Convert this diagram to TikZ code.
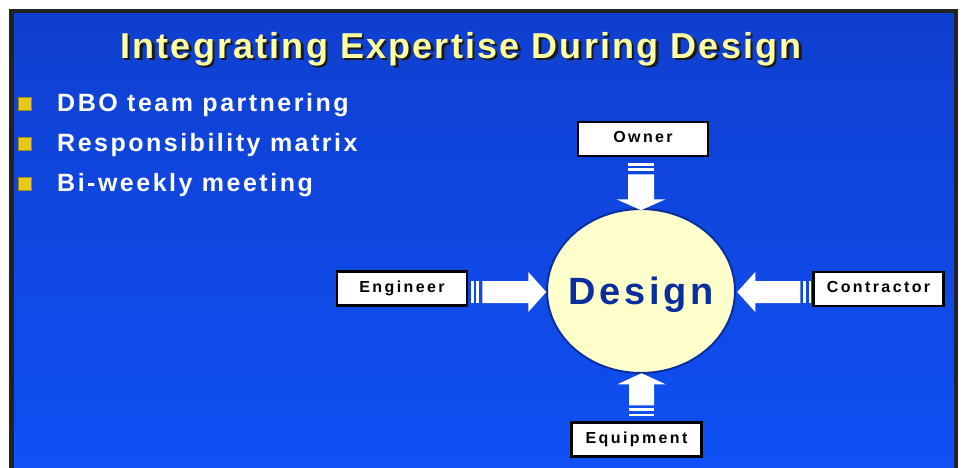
\documentclass[tikz,border=0pt]{standalone}
\usepackage{fontspec}
\setmainfont{Liberation Sans}
\newfontfamily\titlefont[LetterSpace=6]{Liberation Sans}
\newfontfamily\bulletfont[LetterSpace=10]{Liberation Sans}
\newfontfamily\designfont[LetterSpace=10]{Liberation Sans}
\newfontfamily\boxfont[LetterSpace=15]{Liberation Sans}
\usetikzlibrary{shapes.geometric,calc}
\definecolor{frameDark}{HTML}{222222}
\definecolor{bgTop}{HTML}{0F3FCF}
\definecolor{bgBot}{HTML}{1050F5}
\definecolor{titleYellow}{HTML}{FFFFA0}
\definecolor{titleShadow}{HTML}{1A1A1A}
\definecolor{bulletGold}{HTML}{E8C81E}
\definecolor{designFill}{HTML}{FFFFCC}
\definecolor{designBlue}{HTML}{0A2E9E}
\newcommand{\shadowtext}[1]{\rlap{\hspace{2.5pt}\raisebox{-2.5pt}{\color{titleShadow}#1}}#1}
\tikzset{
  labelbox/.style={draw=black, line width=2.5pt, fill=white, minimum width=130pt, minimum height=34pt, inner sep=0pt,
    text height=11.5pt, text depth=4pt,
    font=\boxfont\bfseries\fontsize{16}{18}\selectfont, text=black},
  bulletsq/.style={fill=bulletGold, draw=bulletGold!70!black, line width=0.4pt, minimum size=13pt, inner sep=0pt},
  bullettext/.style={anchor=base west, inner sep=0pt, text=white, font=\bulletfont\bfseries\fontsize{25}{28}\selectfont},
  designnode/.style={ellipse, draw=designBlue, line width=2pt, fill=designFill, minimum width=188pt, minimum height=164pt,
    inner sep=0pt},
  designtext/.style={anchor=base, inner sep=0pt, text=designBlue, font=\designfont\bfseries\fontsize{38}{40}\selectfont},
  arrowfill/.style={fill=white, draw=none}
}
\begin{document}
\begin{tikzpicture}[x=1pt,y=-1pt]
\useasboundingbox (0,0) rectangle (963,468);
% frame and background
\fill[frameDark] (9,9) rectangle (958,470);
\shade[top color=bgTop, bottom color=bgBot] (14,14) rectangle (954,470);
% title with drop shadow
\node[anchor=base, inner sep=0pt, text=titleYellow, font=\titlefont\bfseries\fontsize{36}{40}\selectfont] (title) at (461,58.5) {\shadowtext{Integrating Expertise During Design}};
% bullets
\node[bulletsq] (b1) at (24.5,103.5) {};
\node[bulletsq] (b2) at (24.5,143.5) {};
\node[bulletsq] (b3) at (24.5,183.5) {};
\node[bullettext] (t1) at (57,111.5) {DBO team partnering};
\node[bullettext] (t2) at (57,151.5) {Responsibility matrix};
\node[bullettext] (t3) at (57,191.5) {Bi-weekly meeting};
% central node
\node[designnode] (design) at (641,291) {};
\node[designtext] (designlabel) at ($(design.center)+(0,13.5)$) {Design};
% boxes
\node[labelbox] (owner) at (643,139) {Owner};
\node[labelbox] (engineer) at (402,288.5) {Engineer};
\node[labelbox] (contractor) at (878.5,289) {Contractor};
\node[labelbox] (equipment) at (636.5,439.5) {Equipment};
% arrows: owner -> design
\begin{scope}[shift={($(owner.south)+(-2,6)$)}, rotate=-90]
  \fill[arrowfill] (0,-13) rectangle (2.5,13);
  \fill[arrowfill] (5,-13) rectangle (8,13);
  \fill[arrowfill] (11,-13) -- (36,-13) -- (36,-24.5) -- (47,0) -- (36,24.5) -- (36,13) -- (11,13) -- cycle;
\end{scope}
% engineer -> design
\begin{scope}[shift={($(engineer.east)+(3,3.5)$)}]
  \fill[arrowfill] (0,-11) rectangle (2.5,11);
  \fill[arrowfill] (5,-11) rectangle (8,11);
  \fill[arrowfill] (11,-11) -- (57,-11) -- (57,-20) -- (75,0) -- (57,20) -- (57,11) -- (11,11) -- cycle;
\end{scope}
% contractor -> design
\begin{scope}[shift={($(contractor.west)+(-1,3)$)}, rotate=180]
  \fill[arrowfill] (0,-11) rectangle (2.5,11);
  \fill[arrowfill] (5,-11) rectangle (8,11);
  \fill[arrowfill] (11,-11) -- (56,-11) -- (56,-20) -- (74,0) -- (56,20) -- (56,11) -- (11,11) -- cycle;
\end{scope}
% equipment -> design
\begin{scope}[shift={($(equipment.north)+(5,-5)$)}, rotate=90]
  \fill[arrowfill] (0,-12.5) rectangle (2.5,12.5);
  \fill[arrowfill] (5,-12.5) rectangle (8,12.5);
  \fill[arrowfill] (11,-12.5) -- (32,-12.5) -- (32,-24) -- (43,0) -- (32,24) -- (32,12.5) -- (11,12.5) -- cycle;
\end{scope}
\end{tikzpicture}
\end{document}
